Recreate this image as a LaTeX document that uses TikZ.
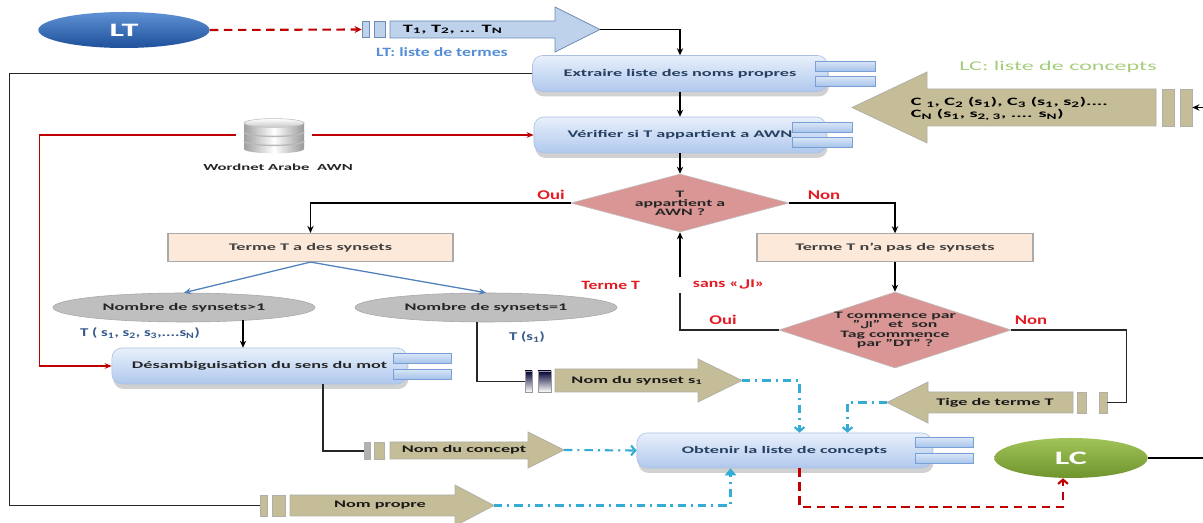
\documentclass[tikz,border=0pt]{standalone}
\usepackage{fontspec}
\setmainfont{Carlito}[FakeStretch=1.8]
\newfontfamily\labelfont{Carlito}[FakeStretch=1.4]
\newfontfamily\arabicfont{DejaVu Sans}[Script=Arabic,FakeStretch=1.3,Scale=0.8]
\TeXXeTstate=1
\usetikzlibrary{calc, positioning, shapes.geometric, arrows.meta, shadows}

\definecolor{boxtop}{RGB}{232,240,251}
\definecolor{boxbot}{RGB}{176,200,237}
\definecolor{boxline}{RGB}{170,193,228}
\definecolor{boxtext}{RGB}{38,64,98}
\definecolor{sidetop}{RGB}{216,229,247}
\definecolor{sidebot}{RGB}{168,195,234}
\definecolor{sideline}{RGB}{120,160,215}
\definecolor{peach}{RGB}{253,233,217}
\definecolor{peachline}{RGB}{170,170,170}
\definecolor{ellgrey}{RGB}{191,191,191}
\definecolor{rosy}{RGB}{217,150,148}
\definecolor{tanfill}{RGB}{196,189,151}
\definecolor{tanline}{RGB}{176,176,168}
\definecolor{ltblue}{RGB}{190,210,236}
\definecolor{ltline}{RGB}{110,140,180}
\definecolor{darkred}{RGB}{192,0,0}
\definecolor{ouired}{RGB}{226,28,36}
\definecolor{dotcyan}{RGB}{52,172,214}
\definecolor{linkblue}{RGB}{79,129,189}
\definecolor{labelblue}{RGB}{85,142,213}
\definecolor{tblue}{RGB}{55,90,140}
\definecolor{lcgreen}{RGB}{166,206,122}
\definecolor{ltdark}{RGB}{30,80,155}
\definecolor{ltlight}{RGB}{95,145,212}
\definecolor{lcdark}{RGB}{112,148,46}
\definecolor{lclight}{RGB}{160,196,88}

\begin{document}
\begin{tikzpicture}[x=0.025cm, y=-0.025cm,
    font=\bfseries\fontsize{7.2}{8}\selectfont,
    procbox/.style={draw=boxline, top color=boxtop, bottom color=boxbot, rounded corners=2.5mm, text=boxtext, minimum width=7.375cm, minimum height=0.9cm, drop shadow={shadow xshift=1pt, shadow yshift=-3.5pt, fill=black!40, opacity=0.45}},
    sidebox/.style={draw=sideline, top color=sidetop, bottom color=sidebot, minimum width=1.5cm, minimum height=0.24cm, inner sep=0},
    peachbox/.style={draw=peachline, fill=peach, line width=0.8pt, text=black!75, minimum height=0.7cm},
    greyell/.style={ellipse, draw=black!35, fill=ellgrey, minimum width=6.55cm, minimum height=0.725cm, inner sep=0, text=black!85},
    decision/.style={diamond, draw=black!25, fill=rosy, inner sep=0, align=center, text=black!85},
    tanarrow/.style={fill=tanfill, draw=tanline, line width=0.5pt},
    tanbar/.style={fill=tanfill, draw=tanline, inner sep=0, line width=0.5pt},
    darkbar/.style={top color=black!80!blue, bottom color=white, draw=black!40, inner sep=0, line width=0.4pt},
    ltbar/.style={fill=ltblue, draw=ltline, inner sep=0, line width=0.6pt},
    blackarrow/.style={draw=black, line width=0.9pt, -{Stealth[length=5pt,width=4.5pt]}},
    blackline/.style={draw=black!85, line width=0.9pt},
    blueline/.style={draw=linkblue, line width=0.9pt, -{Stealth[length=5pt,width=4.5pt]}},
    redline/.style={draw=darkred, line width=0.8pt, -{Stealth[length=5pt,width=4pt]}},
    reddash/.style={draw=darkred, line width=1.5pt, dash pattern=on 6pt off 4pt},
    cyanline/.style={draw=dotcyan, line width=1.5pt, dash pattern=on 6pt off 3.5pt on 1.5pt off 3.5pt},
    cyantip/.style={-{Straight Barb[length=3pt,width=7pt]}},
    ouinon/.style={text=ouired, font=\labelfont\bfseries\fontsize{9.5}{10}\selectfont},
    tlabel/.style={text=tblue, font=\labelfont\bfseries\fontsize{8.5}{9}\selectfont},
    arrowtext/.style={text=black!90, font=\bfseries\fontsize{7.2}{8}\selectfont}
  ]
  \fill[white] (0,0) rectangle (1203,523);
  \useasboundingbox (0,0) rectangle (1203,523);

  % list of terms
  \node[ellipse, top color=ltlight, bottom color=ltdark, minimum width=4.28cm, minimum height=0.9cm, text=white, font=\bfseries\fontsize{13.5}{14}\selectfont] (lt) at (124,30) {LT};
  \node[ltbar, minimum width=0.175cm, minimum height=0.42cm] (ltbarA) at (365.5,29.5) {};
  \node[ltbar, minimum width=0.275cm, minimum height=0.42cm] (ltbarB) at (379.5,29.5) {};
  \draw[fill=ltblue, draw=ltline, line width=0.6pt] (390,21) -- (555,21) -- (555,7) -- (600,29.5) -- (555,52) -- (555,38) -- (390,38) -- cycle;
  \coordinate (ttip) at (600,29.5);
  \node[anchor=west, font=\bfseries\fontsize{8}{9}\selectfont] (tlist) at (398,29.5) {T\textsubscript{1}, T\textsubscript{2}, ... T\textsubscript{N}};
  \node[text=labelblue, font=\labelfont\bfseries\fontsize{9}{10}\selectfont] (ltlabel) at (442,52) {LT: liste de termes};
  \draw[reddash, -{Stealth[length=5pt,width=5pt]}] (lt.east) -- (ltbarA.west);

  % main process boxes
  \node[procbox] (extraire) at (680,73.5) {Extraire liste des noms propres};
  \node[sidebox] (extraireA) at (845,66) {};
  \node[sidebox] (extraireB) at (845,81.5) {};
  \node[procbox, minimum width=7.3cm] (verif) at (680,135) {V\'erifier si T appartient a AWN};
  \node[sidebox] (verifA) at (822,127.5) {};
  \node[sidebox] (verifB) at (822,142.5) {};
  \node[procbox, text=black!85] (desamb) at (259.5,366) {D\'esambiguisation du sens du mot};
  \node[sidebox, minimum width=1.45cm] (desambA) at (422,358.5) {};
  \node[sidebox, minimum width=1.45cm] (desambB) at (422,374) {};
  \node[procbox, minimum height=0.875cm] (obtenir) at (784.5,450.5) {Obtenir la liste de concepts};
  \node[sidebox, minimum width=1.45cm] (obtenirA) at (944,442.5) {};
  \node[sidebox, minimum width=1.45cm] (obtenirB) at (944,458.5) {};

  % Arabic WordNet
  \node[minimum width=1.9cm, minimum height=0.9cm, inner sep=0] (db) at (274,135) {};
  \shade[left color=gray!75, right color=gray!80, middle color=white] ($(db.center)+(0,14)$) ellipse [x radius=0.75cm, y radius=0.11cm];
  \shade[left color=gray!75, right color=gray!80, middle color=white] ($(db.center)+(-30,-12)$) rectangle ($(db.center)+(30,14)$);
  \foreach \dy in {-3,6}
    \draw[gray!55, line width=1pt] ($(db.center)+(-30,\dy)$) arc[start angle=180, end angle=360, x radius=0.75cm, y radius=0.11cm];
  \shade[top color=white, bottom color=gray!45, draw=gray!50] ($(db.center)+(0,-12)$) ellipse [x radius=0.75cm, y radius=0.11cm];
  \node[font=\bfseries\fontsize{6.6}{7}\selectfont, text=black!85] (awn) at (278,167) {Wordnet Arabe \ AWN};

  % decisions
  \node[decision, aspect=3.76, minimum width=5.45cm, minimum height=1.45cm, font=\bfseries\fontsize{7}{6.3}\selectfont] (d1) at (680,203) {T\\appartient a\\AWN ?};
  \node[decision, aspect=3.05, minimum width=5.8cm, minimum height=1.9cm, font=\bfseries\fontsize{7}{6.6}\selectfont] (d2) at (895,330) {T commence par\\"{\arabicfont\beginR ال\endR}"\ \ et\ \ son\\Tag commence\\par "DT" ?};
  \node[ouinon] (oui1) at (551,195) {Oui};
  \node[ouinon] (non1) at (824,195) {Non};
  \node[ouinon] (oui2) at (723,320) {Oui};
  \node[ouinon] (non2) at (1031,320) {Non};

  \node[peachbox, minimum width=7.125cm] (syn) at (310.5,247.5) {Terme T a des synsets};
  \node[peachbox, minimum width=6.9cm, minimum height=0.68cm] (nsyn) at (895,247.5) {Terme T n’a pas de synsets};
  \node[greyell] (e1) at (184,307.5) {Nombre de synsets>1};
  \node[greyell] (e2) at (486,307.5) {Nombre de synsets=1};
  \node[tlabel] (tmulti) at (140,333) {T ( s\textsubscript{1}, s\textsubscript{2}, s\textsubscript{3},....s\textsubscript{N})};
  \node[tlabel] (tsingle) at (527,337) {T (s\textsubscript{1})};
  \node[text=ouired, font=\labelfont\bfseries\fontsize{9}{10}\selectfont, anchor=east] (termet) at (645,285) {Terme T};
  \node[text=ouired, font=\labelfont\bfseries\fontsize{9}{10}\selectfont, anchor=west] (sansal) at (688,285) {sans «{\arabicfont\beginR ال\endR}»};

  % block arrows
  \draw[tanarrow] (1156,89) -- (927,89) -- (927,72) -- (852,107.5) -- (927,143) -- (927,126) -- (1156,126) -- cycle;
  \node[tanbar, minimum width=0.3cm, minimum height=0.925cm] (lcbarA) at (1168,107.5) {};
  \node[tanbar, minimum width=0.3cm, minimum height=0.925cm] (lcbarB) at (1186,107.5) {};
  \node[anchor=west, align=left, font=\bfseries\fontsize{8}{8.6}\selectfont] (clist) at (906,109) {C \textsubscript{1}, C\textsubscript{2} (s\textsubscript{1}), C\textsubscript{3} (s\textsubscript{1}, s\textsubscript{2})....\\C\textsubscript{N} (s\textsubscript{1}, s\textsubscript{2, 3}, .... s\textsubscript{N})};
  \node[text=lcgreen, font=\mdseries\fontsize{9.5}{10}\selectfont] (lclabel) at (1058,67) {LC: liste de concepts};

  \draw[tanarrow] (555,369) -- (698,369) -- (698,359) -- (742,380.5) -- (698,402) -- (698,392) -- (555,392) -- cycle;
  \coordinate (syntip) at (742,380.5);
  \node[darkbar, minimum width=0.175cm, minimum height=0.525cm] (synbarA) at (528.5,381.5) {};
  \node[darkbar, minimum width=0.325cm, minimum height=0.525cm] (synbarB) at (544.5,381.5) {};
  \node[arrowtext] (synname) at (637,380.5) {Nom du synset s\textsubscript{1}};

  \draw[tanarrow] (1073,392) -- (928,392) -- (928,382) -- (887,402.5) -- (928,423) -- (928,413) -- (1073,413) -- cycle;
  \coordinate (tigetip) at (887,402.5);
  \node[tanbar, minimum width=0.225cm, minimum height=0.525cm] (tbarA) at (1081.5,402.5) {};
  \node[tanbar, minimum width=0.2cm, minimum height=0.525cm] (tbarB) at (1103,402.5) {};
  \node[arrowtext] (tige) at (995,402.5) {Tige de terme T};

  \draw[tanarrow] (390,442) -- (528,442) -- (528,432) -- (564,450) -- (528,468) -- (528,459) -- (390,459) -- cycle;
  \coordinate (conctip) at (564,450);
  \node[tanbar, fill=black!30, minimum width=0.15cm, minimum height=0.43cm] (cbarA) at (367,451) {};
  \node[tanbar, minimum width=0.25cm, minimum height=0.43cm] (cbarB) at (379,451) {};
  \node[arrowtext] (concname) at (464,450) {Nom du concept};

  \draw[tanarrow] (290,495) -- (455,495) -- (455,485) -- (494,505.5) -- (455,526) -- (455,516) -- (290,516) -- cycle;
  \coordinate (nptip) at (494,505.5);
  \node[tanbar, minimum width=0.175cm, minimum height=0.525cm] (npbarA) at (263.5,505.5) {};
  \node[tanbar, minimum width=0.325cm, minimum height=0.525cm] (npbarB) at (278.5,505.5) {};
  \node[arrowtext] (npname) at (380,505.5) {Nom propre};

  \node[ellipse, top color=lclight, bottom color=lcdark, minimum width=3.83cm, minimum height=1cm, text=white, font=\bfseries\fontsize{13.5}{14}\selectfont] (lc) at (1071,458) {LC};

  % connectors
  \draw[blackarrow] (ttip) -| (extraire.north);
  \draw[blackarrow] (extraire.south) -- (verif.north);
  \draw[blackarrow] (verif.south) -- (d1.north);
  \draw[blackarrow] (d1.west) -| (syn.north);
  \draw[blackarrow] (d1.east) -| (nsyn.north);
  \draw[blackarrow] (nsyn.south) -- (d2.north);
  \draw[blackline] (d2.west) -| ($(d1.south)+(0,61)$);
  \draw[blackarrow] ($(d1.south)+(0,45)$) -- (d1.south);
  \draw[blackline] (d2.east) -- ++(115,0) |- (tbarB.east);
  \draw[blueline] (syn.south) -- (e1.north);
  \draw[blueline] (syn.south) -- (e2.north);
  \draw[blackarrow] ($(e1.south)+(59,-2)$) -- ($(desamb.north)+(-16.5,0)$);
  \draw[blackline] ($(e2.south)+(-9,0)$) |- (synbarA.west);
  \draw[blackline] ($(desamb.south)+(63.5,0)$) |- (cbarA.west);
  \draw[blackline] (extraire.west) -- ++(-523,0) |- (npbarA.west);
  \draw[redline] (db.east) -- (verif.west);
  \draw[redline] (db.west) -- ++(-196,0) |- (desamb.west);
  \draw[cyanline, cyantip] (syntip) -| ($(obtenir.north)+(15,0)$);
  \draw[cyanline, cyantip] (tigetip) -| ($(obtenir.north)+(63,0)$);
  \draw[cyanline, cyantip] (conctip) -- (obtenir.west);
  \draw[cyanline, -{Triangle[length=5pt,width=8pt]}] (nptip) -| ($(obtenir.south)+(-54,0)$);
  \draw[reddash, -{Straight Barb[length=3pt,width=7pt]}] ($(obtenir.south)+(15,0)$) -- ++(0,39) -| ($(lc.south)+(-8,0)$);
  \draw[blackarrow] (lc.east) -- ++(90,0) |- (lcbarB.east);
\end{tikzpicture}
\end{document}
